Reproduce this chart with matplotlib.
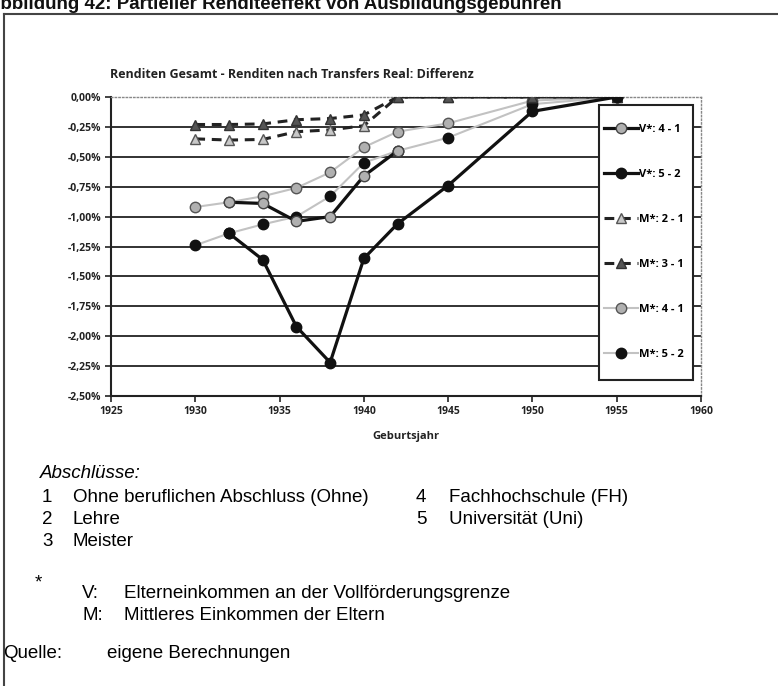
import numpy as np
import matplotlib.pyplot as plt
from matplotlib.lines import Line2D
from matplotlib.patches import Rectangle
from matplotlib.ticker import FuncFormatter

# Geburtsjahrgaenge
years_m = [1930, 1932, 1934, 1936, 1938, 1940, 1942, 1945, 1950, 1955]
years_v41 = [1932, 1934, 1936, 1938, 1940, 1942]
years_v52 = [1932, 1934, 1936, 1938, 1940, 1942, 1945, 1950, 1955]

# Differenz in Prozent
v_4_1 = [-0.88, -0.89, -1.04, -1.00, -0.66, -0.45]
v_5_2 = [-1.14, -1.36, -1.92, -2.22, -1.35, -1.06, -0.74, -0.12, 0.0]
m_2_1 = [-0.35, -0.36, -0.355, -0.29, -0.275, -0.24, 0.0, 0.0, 0.0, 0.0]
m_3_1 = [-0.23, -0.23, -0.225, -0.19, -0.18, -0.15, 0.0, 0.0, 0.0, 0.0]
m_4_1 = [-0.92, -0.88, -0.83, -0.76, -0.63, -0.42, -0.29, -0.22, -0.03, 0.0]
m_5_2 = [-1.24, -1.14, -1.065, -1.00, -0.83, -0.55, -0.45, -0.34, -0.06, 0.0]

series_labels = ['V*: 4 - 1', 'V*: 5 - 2', 'M*: 2 - 1', 'M*: 3 - 1', 'M*: 4 - 1', 'M*: 5 - 2']
y_ticks = [0.0, -0.25, -0.5, -0.75, -1.0, -1.25, -1.5, -1.75, -2.0, -2.25, -2.5]
x_ticks = [1925, 1930, 1935, 1940, 1945, 1950, 1955, 1960]

W, H = 778, 686
fig = plt.figure(figsize=(W / 100, H / 100), dpi=100)


def fx(px):
    return px / W


def fy(py):
    return 1 - py / H


chart_font = ['Open Sans', 'DejaVu Sans']
text_font = ['Liberation Sans', 'DejaVu Sans']

ax = fig.add_axes([fx(111), fy(396), fx(701) - fx(111), fy(97) - fy(396)])

# graue Linien (M*: 4-1, 5-2)
l_m41, = ax.plot(years_m, m_4_1, color='#c2c2c2', lw=1.5, marker='o', ms=7.5,
                 mfc='#b0b0b0', mec='#555555', mew=1, zorder=3)
l_m52, = ax.plot(years_m, m_5_2, color='#c2c2c2', lw=1.5, marker='o', ms=7.5,
                 mfc='#111111', mec='#111111', mew=1, zorder=3)
# gestrichelt (M*: 2-1, 3-1)
l_m21, = ax.plot(years_m, m_2_1, color='#222222', lw=2.2, ls=(0, (3.2, 2.2)),
                 marker='^', ms=7, mfc='#c8c8c8', mec='#555555', mew=1, zorder=4)
l_m31, = ax.plot(years_m, m_3_1, color='#222222', lw=2.2, ls=(0, (3.2, 2.2)),
                 marker='^', ms=7, mfc='#555555', mec='#333333', mew=1, zorder=4)
# schwarze Linien (V*)
l_v41, = ax.plot(years_v41, v_4_1, color='#111111', lw=2.3, marker='o', ms=7.5,
                 mfc='#b0b0b0', mec='#444444', mew=1, zorder=5)
l_v52, = ax.plot(years_v52, v_5_2, color='#111111', lw=2.3, marker='o', ms=7.5,
                 mfc='#111111', mec='#111111', mew=1, zorder=5)

ax.set_xlim(1925, 1960)
ax.set_ylim(-2.5, 0)
ax.set_xticks(x_ticks)
ax.set_yticks(y_ticks)
ax.yaxis.set_major_formatter(FuncFormatter(lambda v, p: ('%.2f%%' % v).replace('.', ',').replace('-0,00', '0,00')))

# Gitternetz ohne Ober- und Unterkante
ax.hlines(y_ticks[1:-1], 0, 1, transform=ax.get_yaxis_transform(),
          color='#222222', lw=1.3, zorder=1)

for s in ['top', 'right']:
    ax.spines[s].set_linestyle(':')
    ax.spines[s].set_color('#888888')
    ax.spines[s].set_linewidth(1)
for s in ['left', 'bottom']:
    ax.spines[s].set_color('#222222')
    ax.spines[s].set_linewidth(1.5)

ax.tick_params(direction='out', length=4, width=1.2, color='#222222', pad=3)
for lab in ax.get_xticklabels() + ax.get_yticklabels():
    lab.set_fontfamily(chart_font)
    lab.set_fontweight('bold')
    lab.set_fontsize(7.5)
    lab.set_color('#222222')

# Legendenkasten
fig.add_artist(Rectangle((fx(599), fy(380)), fx(693) - fx(599), fy(105) - fy(380),
                         transform=fig.transFigure, facecolor='white',
                         edgecolor='#222222', lw=1.5, zorder=5))
fig.legend([l_v41, l_v52, l_m21, l_m31, l_m41, l_m52], series_labels,
           loc='center', bbox_to_anchor=(fx(644), fy(242)), frameon=False,
           labelspacing=3.05, handlelength=3.05, handletextpad=0.05,
           borderpad=0, prop={'family': chart_font, 'weight': 'bold', 'size': 8}).set_zorder(6)

fig.text(fx(110), fy(75), 'Renditen Gesamt - Renditen nach Transfers Real: Differenz',
         family=chart_font, weight='bold', size=9, va='center', color='#222222')
fig.text(fx(406), fy(436), 'Geburtsjahr', family=chart_font, weight='bold', size=8,
         ha='center', va='center', color='#222222')

# Rahmen und abgeschnittene Ueberschrift
fig.add_artist(Line2D([fx(4), 1], [fy(14), fy(14)], color='#444444', lw=1.5))
fig.add_artist(Line2D([fx(4), fx(4)], [fy(14), 0], color='#444444', lw=1.5))
fig.text(fx(-13), fy(9), 'Abbildung 42: Partieller Renditeeffekt von Ausbildungsgebühren',
         family=text_font, weight='bold', size=13.5, va='baseline', color='#111111')

# Erlaeuterungen unten
fs = 13.5
fig.text(fx(40), fy(474), 'Abschlüsse:', family=text_font, style='italic', size=fs, va='center')
left_items = [('1', 'Ohne beruflichen Abschluss (Ohne)'), ('2', 'Lehre'), ('3', 'Meister')]
right_items = [('4', 'Fachhochschule (FH)'), ('5', 'Universität (Uni)')]
for i, (n, t) in enumerate(left_items):
    fig.text(fx(42), fy(497 + 22 * i), n, family=text_font, size=fs, va='center')
    fig.text(fx(73), fy(497 + 22 * i), t, family=text_font, size=fs, va='center')
for i, (n, t) in enumerate(right_items):
    fig.text(fx(416), fy(497 + 22 * i), n, family=text_font, size=fs, va='center')
    fig.text(fx(449), fy(497 + 22 * i), t, family=text_font, size=fs, va='center')

fig.text(fx(35), fy(583), '*', family=text_font, size=fs, va='center')
fig.text(fx(82), fy(593), 'V:', family=text_font, size=fs, va='center')
fig.text(fx(124), fy(593), 'Elterneinkommen an der Vollförderungsgrenze', family=text_font, size=fs, va='center')
fig.text(fx(82), fy(615), 'M:', family=text_font, size=fs, va='center')
fig.text(fx(124), fy(615), 'Mittleres Einkommen der Eltern', family=text_font, size=fs, va='center')
fig.text(fx(3), fy(653), 'Quelle:', family=text_font, size=fs, va='center')
fig.text(fx(107), fy(653), 'eigene Berechnungen', family=text_font, size=fs, va='center')

fig.savefig('out.png', dpi=100)
